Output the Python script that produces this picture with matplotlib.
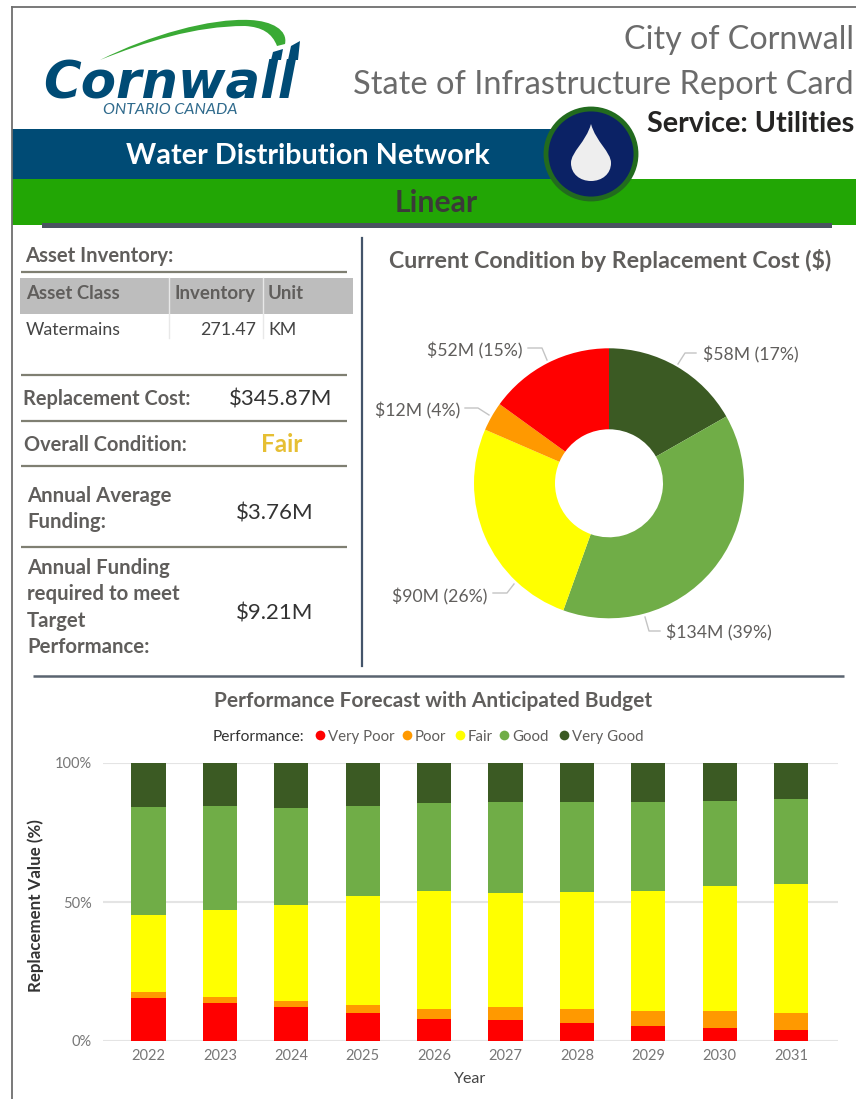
import matplotlib
matplotlib.use("Agg")
import matplotlib.pyplot as plt
from matplotlib.patches import Rectangle, Circle, PathPatch, Polygon
from matplotlib.path import Path

plt.rcParams['font.family'] = ['Lato', 'Open Sans', 'DejaVu Sans']

# Data
years = [2022, 2023, 2024, 2025, 2026, 2027, 2028, 2029, 2030, 2031]
very_poor = [15.3, 13.8, 12.2, 9.9, 7.8, 7.4, 6.6, 5.5, 4.7, 4.1]
poor = [2.2, 2.0, 2.2, 3.2, 3.6, 4.8, 4.9, 5.3, 6.0, 5.8]
fair = [27.8, 31.3, 34.5, 38.9, 42.4, 41.2, 42.0, 43.2, 45.0, 46.4]
good = [38.9, 37.5, 34.8, 32.6, 31.9, 32.5, 32.5, 32.0, 30.6, 30.8]
very_good = [15.8, 15.4, 16.3, 15.4, 14.3, 14.1, 14.0, 14.0, 13.7, 12.9]
series_names = ["Very Poor", "Poor", "Fair", "Good", "Very Good"]
colors = ["#ff0000", "#ff9900", "#ffff00", "#70ad47", "#3b5a23"]

cost_values = [58, 134, 90, 12, 52]
cost_colors = ["#3b5a23", "#70ad47", "#ffff00", "#ff9900", "#ff0000"]
cost_labels = ["$58M (17%)", "$134M (39%)", "$90M (26%)", "$12M (4%)", "$52M (15%)"]

W, H = 856, 1099
GRAY = "#605e5c"
BLUE = "#004b75"
fig = plt.figure(figsize=(W / 100, H / 100), dpi=100, facecolor="white")

# page layer in pixel coordinates
bg = fig.add_axes([0, 0, 1, 1])
bg.set_xlim(0, W)
bg.set_ylim(H, 0)
bg.axis("off")


def box(ax, x, y, w, h, c):
    ax.add_patch(Rectangle((x, y), w, h, fc=c, ec="none"))


def rule(ax, x0, x1, y, c="#7f7f72", lw=1.6):
    ax.plot([x0, x1], [y, y], color=c, lw=lw, solid_capstyle="butt")


# frame
bg.plot([12, 12], [7, H], color="#6e6e6e", lw=1.3)
bg.plot([12, W], [7, 7], color="#6e6e6e", lw=1.3)

# logo
swoosh = Path([(100, 60), (150, 35), (210, 18), (250, 20), (272, 21), (288, 30), (285, 44),
               (277, 46), (272, 33), (262, 27), (245, 26), (195, 26), (145, 42), (100, 60)],
              [Path.MOVETO, Path.CURVE4, Path.CURVE4, Path.CURVE4, Path.CURVE4, Path.CURVE4, Path.CURVE4,
               Path.LINETO, Path.CURVE4, Path.CURVE4, Path.CURVE4, Path.CURVE4, Path.CURVE4, Path.CURVE4])
bg.add_patch(PathPatch(swoosh, fc="#3aaa35", ec="none"))
bg.text(43, 97, "Cornwall", fontsize=37, family=["DejaVu Sans"], weight="bold", style="oblique",
        color=BLUE, va="baseline", ha="left")
bg.add_patch(Polygon([(271, 60), (281, 60), (283, 49), (273, 52)], fc=BLUE, ec="none"))
bg.add_patch(Polygon([(288, 60), (298, 60), (300, 41), (291, 46)], fc=BLUE, ec="none"))
bg.text(170, 110, "ONTARIO CANADA", fontsize=11.5, style="italic", color="#2f6a8c", ha="center", va="center")

# header titles
bg.text(854, 40, "City of Cornwall", fontsize=23.2, color="#6b6b6b", ha="right", va="center")
bg.text(854, 85, "State of Infrastructure Report Card", fontsize=23.4, color="#6b6b6b", ha="right", va="center")
bg.text(854, 124, "Service: Utilities", fontsize=20.7, weight="bold", color="#252423", ha="right", va="center")

# bands
box(bg, 12, 129, 540, 51, BLUE)
box(bg, 12, 179, W - 12, 46, "#22a605")
bg.add_patch(Rectangle((42, 223), 790, 4.5, fc="#4a5360", ec="none"))
bg.text(308, 156, "Water Distribution Network", fontsize=20.7, weight="bold", color="white", ha="center", va="center")
bg.text(436, 203, "Linear", fontsize=21.7, weight="bold", color="#3b3a39", ha="center", va="center")

# badge with drop
bg.add_patch(Circle((591, 154), 45, fc="#0b2265", ec="#226b1e", lw=3.5, zorder=4))
drop = Path([(591, 124), (586, 142), (571, 152), (571, 163), (571, 174), (580, 181), (591, 181),
             (602, 181), (611, 174), (611, 163), (611, 152), (596, 142), (591, 124)],
            [Path.MOVETO] + [Path.CURVE4] * 12)
bg.add_patch(PathPatch(drop, fc="#eeeeee", ec="none", zorder=5))

# left panel
bg.text(25, 256, "Asset Inventory:", fontsize=14.6, weight="bold", color=GRAY, va="center")
rule(bg, 21, 347, 272)
box(bg, 20, 278, 333, 36, "#bdbdbd")
bg.plot([169, 169], [278, 338], color="#e8e8e8", lw=1)
bg.plot([263, 263], [278, 338], color="#e8e8e8", lw=1)
bg.text(26, 299, "Asset Class", fontsize=13.4, weight="bold", color=GRAY, va="baseline")
bg.text(256, 299, "Inventory", fontsize=13.4, weight="bold", color=GRAY, va="baseline", ha="right")
bg.text(268, 299, "Unit", fontsize=13.4, weight="bold", color=GRAY, va="baseline")
bg.text(26, 330, "Watermains", fontsize=12.8, color="#444444", va="center")
bg.text(256, 330, "271.47", fontsize=12.8, color="#444444", va="center", ha="right")
bg.text(268, 330, "KM", fontsize=12.8, color="#444444", va="center")

for y in [375, 421, 466, 547]:
    rule(bg, 21, 347, y)
bg.text(23, 399, "Replacement Cost:", fontsize=14.4, weight="bold", color=GRAY, va="center")
bg.text(281, 399, "$345.87M", fontsize=16, color="#333333", va="center", ha="center")
bg.text(24, 445, "Overall Condition:", fontsize=14.4, weight="bold", color=GRAY, va="center")
bg.text(282, 445, "Fair", fontsize=17.5, weight="bold", color="#e6bf33", va="center", ha="center")
bg.text(27, 496, "Annual Average", fontsize=14.7, weight="bold", color=GRAY, va="center")
bg.text(27, 522, "Funding:", fontsize=14.7, weight="bold", color=GRAY, va="center")
bg.text(275, 513, "$3.76M", fontsize=16, color="#333333", va="center", ha="center")
for y, s in zip([568, 594, 621, 647], ["Annual Funding", "required to meet", "Target", "Performance:"]):
    bg.text(27, y, s, fontsize=14.7, weight="bold", color=GRAY, va="center")
bg.text(275, 613, "$9.21M", fontsize=16, color="#333333", va="center", ha="center")

# dividers
bg.plot([362, 362], [238, 666], color="#44546a", lw=1.6)
rule(bg, 33, 844, 676, c="#5a6470", lw=1.8)

# donut
bg.text(610, 261, "Current Condition by Replacement Cost ($)", fontsize=16.7, weight="bold", color=GRAY,
        ha="center", va="center")
cx, cy, r = 609, 483.3, 135
ax2 = fig.add_axes([(cx - r) / W, 1 - (cy + r) / H, 2 * r / W, 2 * r / H])
ax2.pie(cost_values, colors=cost_colors, startangle=90, counterclock=False, radius=1,
        wedgeprops=dict(width=0.6, linewidth=0))
ax2.set_xlim(-1, 1)
ax2.set_ylim(-1, 1)

leaders = [[(678, 364), (685, 353), (696, 353)], [(645, 617), (649, 631), (660, 631)],
           [(514, 584), (507, 593), (493, 593)], [(489, 415), (478, 408), (465, 408)],
           [(547, 360), (542, 348), (528, 348)]]
label_pos = [(703, 355, "left"), (666, 633, "left"), (487, 597, "right"), (460, 411, "right"), (523, 351, "right")]
for pts, pos, s in zip(leaders, label_pos, cost_labels):
    bg.plot([p[0] for p in pts], [p[1] for p in pts], color="#c4c4c4", lw=1)
    bg.text(pos[0], pos[1], s, fontsize=12.7, color=GRAY, ha=pos[2], va="center")

# stacked bars
bg.text(433, 701, "Performance Forecast with Anticipated Budget", fontsize=15, weight="bold", color=GRAY,
        ha="center", va="center")
bg.text(213, 737, "Performance:", fontsize=11.2, color="#333333", va="center")
legend_x = [320, 407, 460, 504, 564]
for x, name, c in zip(legend_x, series_names, colors):
    bg.plot([x], [735], marker="o", ms=7, color=c, mec="none")
    bg.text(x + 8, 737, name, fontsize=10.8, color=GRAY, va="center")

left, right, top, bottom = 102.7, 838, 763, 1041
ax = fig.add_axes([left / W, 1 - bottom / H, (right - left) / W, (bottom - top) / H])
ax.set_zorder(2)
ax.patch.set_alpha(0)
base = [0] * len(years)
for vals, c in zip([very_poor, poor, fair, good, very_good], colors):
    ax.bar(years, vals, width=0.48, bottom=base, color=c, linewidth=0, zorder=3)
    base = [b + v for b, v in zip(base, vals)]
ax.set_xlim(2022 - 0.641, 2022 + 9.657)
ax.set_ylim(0, 100)
ax.set_xticks(years)
ax.set_yticks([0, 50, 100])
ax.set_yticklabels(["0%", "50%", "100%"])
ax.grid(axis="y", color="#e4e4e4", lw=1.5, zorder=0)
ax.tick_params(length=0, labelsize=10.5, labelcolor="#777777")
ax.tick_params(axis="y", pad=8)
ax.tick_params(axis="x", pad=6)
for s in ax.spines.values():
    s.set_visible(False)
bg.text(470, 1079, "Year", fontsize=11.5, color="#444444", ha="center", va="center")
bg.text(36, 906, "Replacement Value (%)", fontsize=12.2, weight="bold", color="#333333", rotation=90,
        ha="center", va="center")

fig.savefig("out.png", dpi=100)
